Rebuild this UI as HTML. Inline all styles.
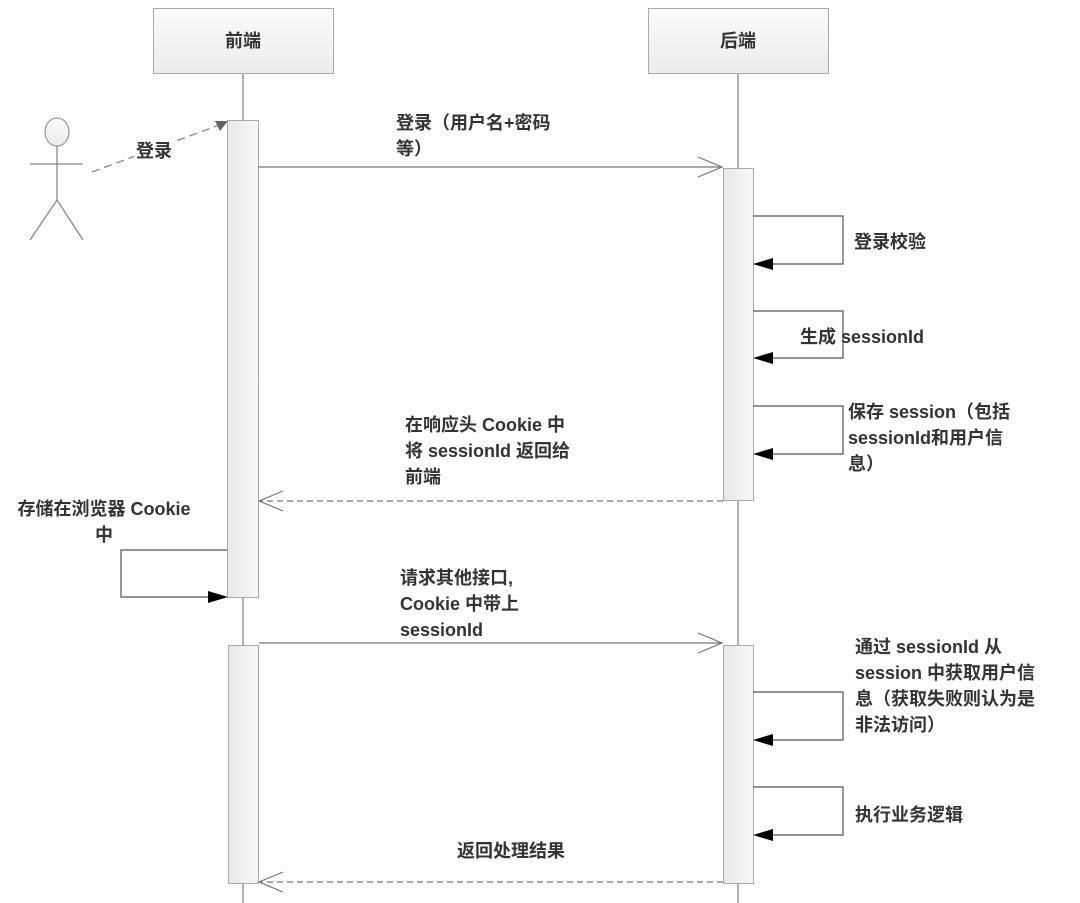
<!DOCTYPE html>
<html><head><meta charset="utf-8"><style>
html,body{margin:0;padding:0;background:#fff;}
svg{display:block;}
text{font-family:"Liberation Sans","Noto Sans CJK SC",sans-serif;font-size:18px;font-weight:bold;fill:#333;}
</style></head><body>
<svg width="1080" height="903" viewBox="0 0 1080 903" xmlns="http://www.w3.org/2000/svg">
<defs>
<linearGradient id="hg" x1="0" y1="0" x2="0" y2="1"><stop offset="0" stop-color="#fbfbfb"/><stop offset="1" stop-color="#ececec"/></linearGradient>
<linearGradient id="ag" x1="0" y1="0" x2="1" y2="0"><stop offset="0" stop-color="#e8e8e8"/><stop offset="1" stop-color="#f8f8f8"/></linearGradient>
</defs>
<line x1="243" y1="73" x2="243" y2="903" stroke="#888" stroke-width="1.3"/>
<line x1="738" y1="73" x2="738" y2="903" stroke="#888" stroke-width="1.3"/>
<rect x="153.5" y="8.5" width="180" height="65" fill="url(#hg)" stroke="#aaa"/>
<text x="243" y="47" text-anchor="middle">前端</text>
<rect x="648.5" y="8.5" width="180" height="65" fill="url(#hg)" stroke="#aaa"/>
<text x="738" y="47" text-anchor="middle">后端</text>
<rect x="227.5" y="120.5" width="31" height="477" fill="url(#ag)" stroke="#aaa"/>
<rect x="723.5" y="168.5" width="30" height="332" fill="url(#ag)" stroke="#aaa"/>
<rect x="228.5" y="645.5" width="30" height="238" fill="url(#ag)" stroke="#aaa"/>
<rect x="723.5" y="645.5" width="30" height="238" fill="url(#ag)" stroke="#aaa"/>
<ellipse cx="57" cy="132" rx="12" ry="14" fill="url(#hg)" stroke="#888"/>
<line x1="57" y1="146" x2="57" y2="200" stroke="#888" stroke-width="1.3"/>
<line x1="30" y1="164" x2="83" y2="164" stroke="#888" stroke-width="1.3"/>
<line x1="57" y1="200" x2="30" y2="240" stroke="#888" stroke-width="1.3"/>
<line x1="57" y1="200" x2="83" y2="240" stroke="#888" stroke-width="1.3"/>
<line x1="92" y1="172" x2="222" y2="124" stroke="#888" stroke-width="1.3" stroke-dasharray="8,5"/>
<polygon points="228,121 215,121 220,131" fill="#666"/>
<rect x="134" y="137" width="42" height="24" fill="#fff"/>
<text x="136" y="157">登录</text>
<line x1="258" y1="167" x2="722" y2="167" stroke="#777" stroke-width="1.3"/>
<polyline points="698,157 722,167 698,177" fill="none" stroke="#777" stroke-width="1.2"/>
<text x="396" y="129">登录（用户名+密码</text>
<text x="396" y="155">等）</text>
<g fill="none" stroke="#555" stroke-width="1.2">
<polyline points="753,216 843,216 843,264 758,264"/>
<polyline points="753,311 843,311 843,358 758,358"/>
<polyline points="753,406 843,406 843,454 758,454"/>
<polyline points="753,692 843,692 843,740 758,740"/>
<polyline points="753,787 843,787 843,835 758,835"/>
<polyline points="227,550 121,550 121,597 222,597"/>
</g>
<g fill="#000">
<polygon points="753,264 773,258 773,270"/>
<polygon points="753,358 773,352 773,364"/>
<polygon points="753,454 773,448 773,460"/>
<polygon points="753,740 773,734 773,746"/>
<polygon points="753,835 773,829 773,841"/>
<polygon points="228,597 208,591 208,603"/>
</g>
<text x="854" y="248">登录校验</text>
<text x="800" y="343">生成 sessionId</text>
<text x="848" y="418">保存 session（包括</text>
<text x="848" y="444">sessionId和用户信</text>
<text x="848" y="470">息）</text>
<text x="855" y="653">通过 sessionId 从</text>
<text x="855" y="679">session 中获取用户信</text>
<text x="855" y="705">息（获取失败则认为是</text>
<text x="855" y="731">非法访问）</text>
<text x="855" y="821">执行业务逻辑</text>
<line x1="723" y1="501" x2="260" y2="501" stroke="#777" stroke-width="1.2" stroke-dasharray="6,4"/>
<polyline points="283,491 259,501 283,511" fill="none" stroke="#777" stroke-width="1.2"/>
<text x="405" y="431">在响应头 Cookie 中</text>
<text x="405" y="457">将 sessionId 返回给</text>
<text x="405" y="483">前端</text>
<text x="104" y="515" text-anchor="middle">存储在浏览器 Cookie</text>
<text x="104" y="541" text-anchor="middle">中</text>
<line x1="259" y1="643" x2="722" y2="643" stroke="#777" stroke-width="1.3"/>
<polyline points="698,633 722,643 698,653" fill="none" stroke="#777" stroke-width="1.2"/>
<text x="400" y="584">请求其他接口,</text>
<text x="400" y="610">Cookie 中带上</text>
<text x="400" y="636">sessionId</text>
<line x1="723" y1="882" x2="260" y2="882" stroke="#777" stroke-width="1.2" stroke-dasharray="6,4"/>
<polyline points="283,872 259,882 283,892" fill="none" stroke="#777" stroke-width="1.2"/>
<text x="457" y="857">返回处理结果</text>
</svg>
</body></html>
